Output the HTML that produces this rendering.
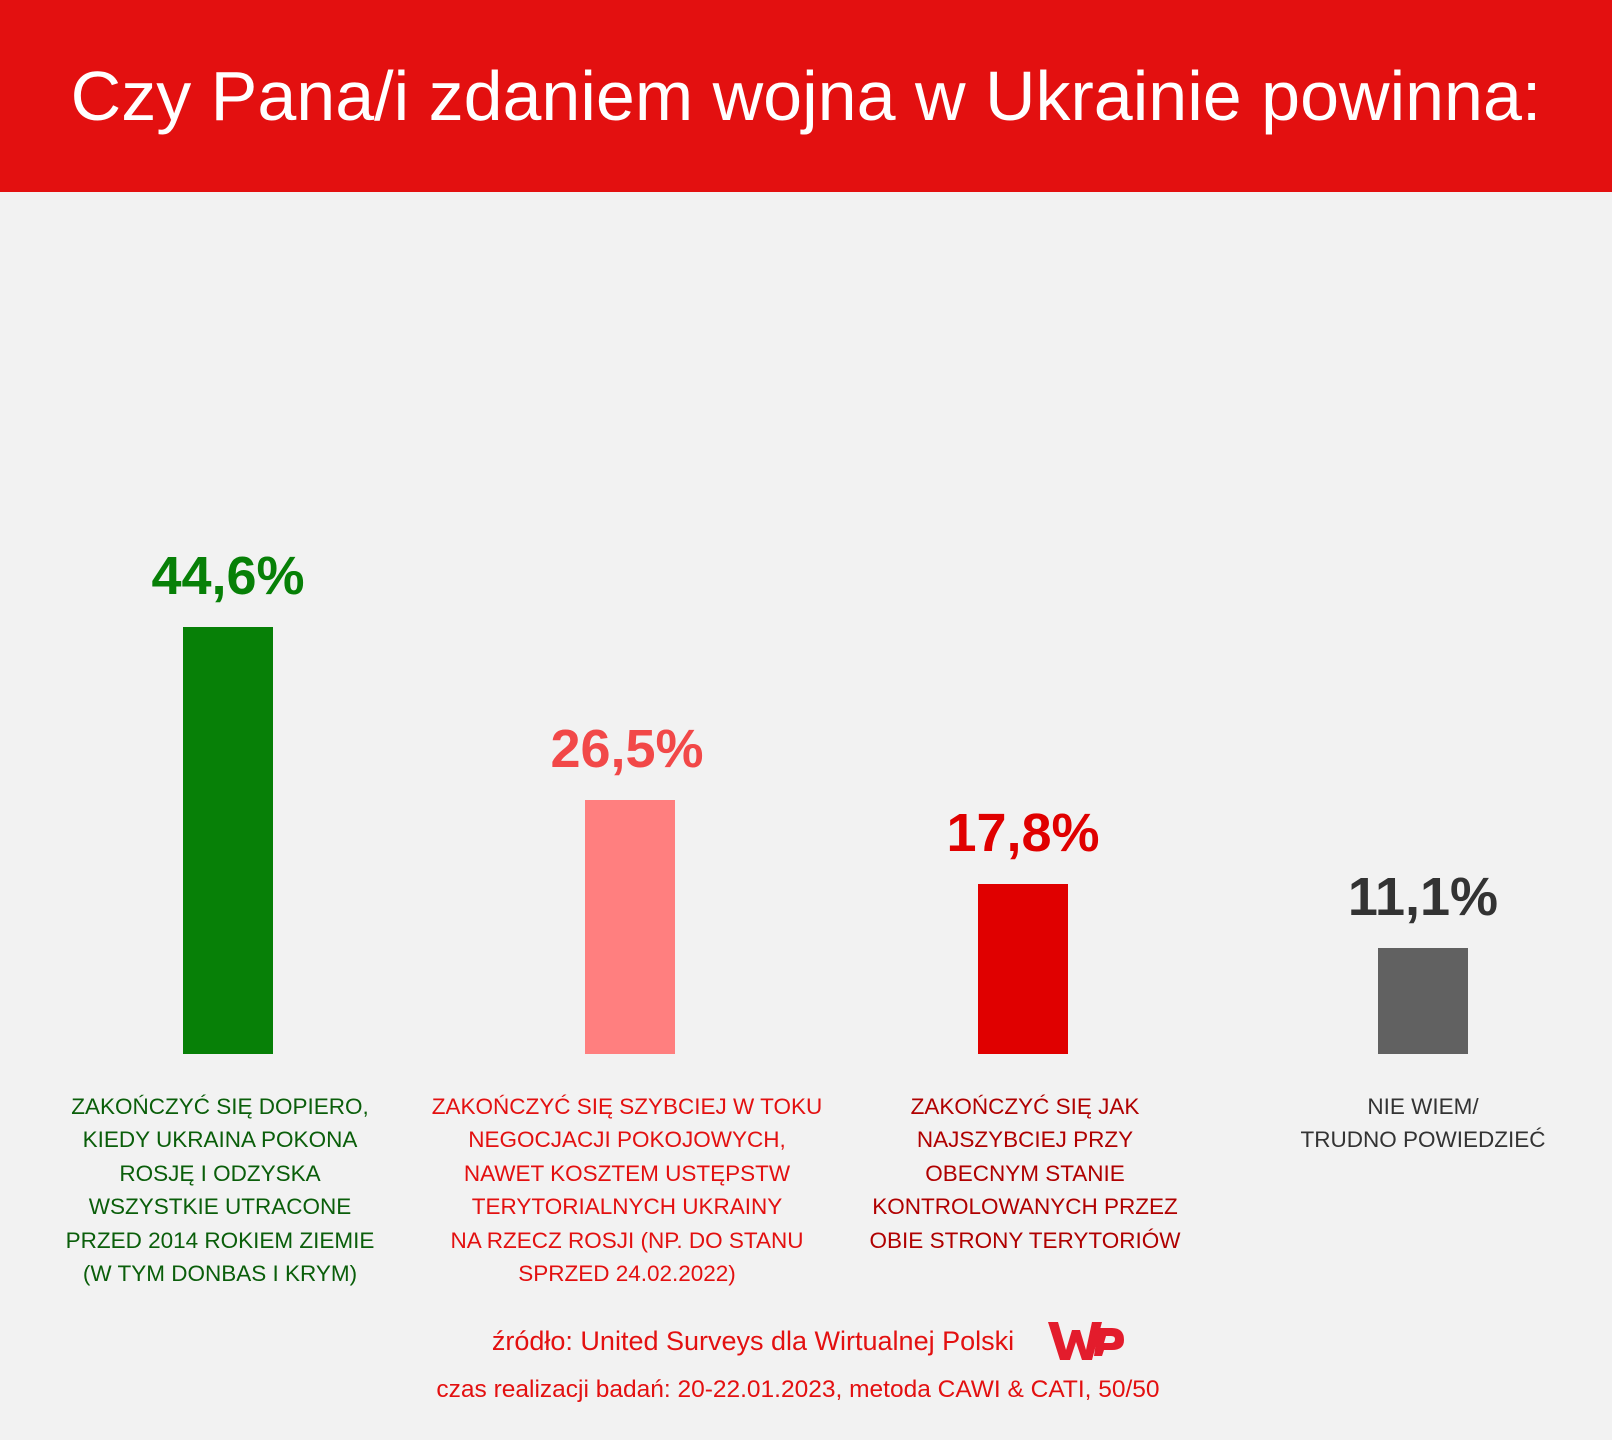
<!DOCTYPE html>
<html><head><meta charset="utf-8"><style>
body{margin:0;width:1612px;height:1440px;background:#f2f2f2;position:relative;overflow:hidden;font-family:"Liberation Sans","DejaVu Sans",sans-serif}
.hdr{position:absolute;left:0;top:0;width:1612px;height:192px;background:#e31010;color:#fff;font-size:70px;text-align:center;line-height:192px}
.bar{position:absolute;width:90px}
.val{position:absolute;width:300px;text-align:center;font-size:54px;line-height:56px;font-weight:bold;letter-spacing:0px}
.lab{position:absolute;width:440px;text-align:center;font-size:22.5px;line-height:33.4px;top:1090px}
.src{position:absolute;width:1612px;text-align:center;color:#e31010}
</style></head><body>
<div class="hdr">Czy Pana/i zdaniem wojna w Ukrainie powinna:</div>

<div class="val" style="left:78px;top:548px;color:#078007">44,6%</div>
<div class="bar" style="left:183px;top:627px;height:427px;background:#078007"></div>
<div class="lab" style="left:0px;color:#0a5e0a">ZAKOŃCZYĆ SIĘ DOPIERO,<br>KIEDY UKRAINA POKONA<br>ROSJĘ I ODZYSKA<br>WSZYSTKIE UTRACONE<br>PRZED 2014 ROKIEM ZIEMIE<br>(W TYM DONBAS I KRYM)</div>

<div class="val" style="left:477px;top:721px;color:#f24848">26,5%</div>
<div class="bar" style="left:585px;top:800px;height:254px;background:#ff7f7f"></div>
<div class="lab" style="left:407px;color:#e31010">ZAKOŃCZYĆ SIĘ SZYBCIEJ W TOKU<br>NEGOCJACJI POKOJOWYCH,<br>NAWET KOSZTEM USTĘPSTW<br>TERYTORIALNYCH UKRAINY<br>NA RZECZ ROSJI (NP. DO STANU<br>SPRZED 24.02.2022)</div>

<div class="val" style="left:873px;top:805px;color:#e00000">17,8%</div>
<div class="bar" style="left:978px;top:884px;height:170px;background:#e00000"></div>
<div class="lab" style="left:805px;color:#b00000">ZAKOŃCZYĆ SIĘ JAK<br>NAJSZYBCIEJ PRZY<br>OBECNYM STANIE<br>KONTROLOWANYCH PRZEZ<br>OBIE STRONY TERYTORIÓW</div>

<div class="val" style="left:1273px;top:869px;color:#333">11,1%</div>
<div class="bar" style="left:1378px;top:948px;height:106px;background:#616161"></div>
<div class="lab" style="left:1203px;color:#333">NIE WIEM/<br>TRUDNO POWIEDZIEĆ</div>

<div class="src" style="top:1326px;left:-53px;font-size:27px">źródło: United Surveys dla Wirtualnej Polski</div>
<svg style="position:absolute;left:1046px;top:1318px" width="80" height="46" viewBox="0 0 80 46">
<path d="M2 4 L12 4 L20 32 L26 12 L34 12 L40 32 L46 4 L56 4 L46 42 L36 42 L30 24 L24 42 L14 42 Z" fill="#e31c2c"/>
<path d="M52 10 L66 10 Q78 10 78 22 Q78 32 66 32 L58 32 L56 38 L48 38 Z M60 18 L58 25 L65 25 Q69 25 69 21 Q69 18 65 18 Z" fill="#e31c2c"/>
</svg>
<div class="src" style="top:1376px;font-size:24.5px;left:-8px">czas realizacji badań: 20-22.01.2023, metoda CAWI &amp; CATI, 50/50</div>
</body></html>
